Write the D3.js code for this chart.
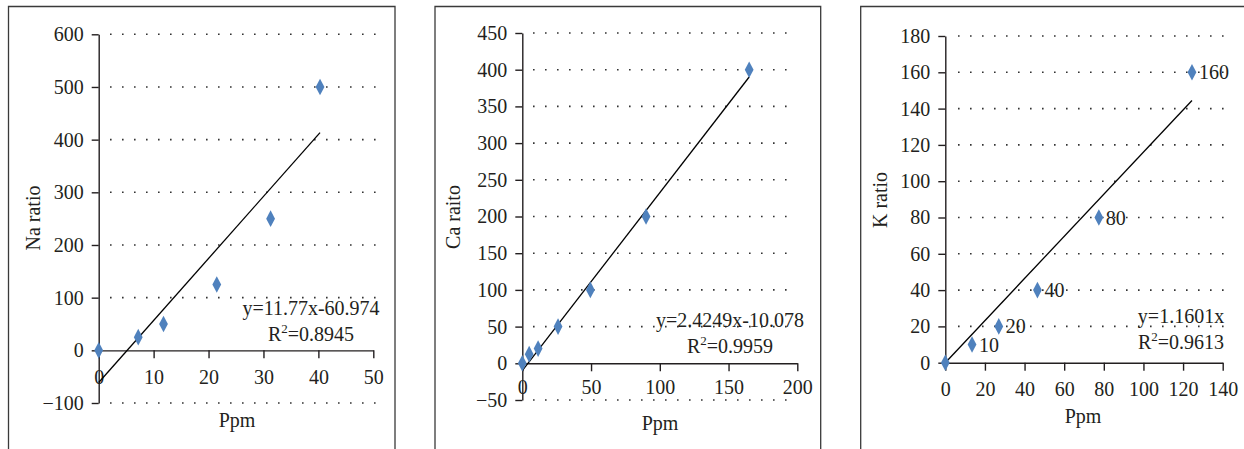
<!DOCTYPE html>
<html lang="en">
<head>
    <meta charset="UTF-8">
    <title>Na, Ca and K ratio vs Ppm</title>
    <script src="https://d3js.org/d3.v7.min.js"></script>
    <style>
        body { margin: 0; background: #fff; }
        text {
            font-family: "Liberation Serif", "DejaVu Serif", serif;
            font-size: 20px;
            fill: #231f20;
        }
        .axis path, .axis line { stroke: #231f20; stroke-width: 1.4px; }
    </style>
</head>
<body>
    <script>
        // data
        const naPpm = [0, 7.2, 11.8, 21.5, 31.3, 40.3];
        const naRatio = [0, 25, 50, 125, 250, 500];
        const caPpm = [0, 5, 11.5, 26, 49.5, 90, 165];
        const caRatio = [0, 12.5, 20, 50, 100, 200, 400];
        const kPpm = [0, 13.5, 27, 46.5, 77.5, 124.5];
        const kRatio = [0, 10, 20, 40, 80, 160];
        const kLabels = ["", "10", "20", "40", "80", "160"];

        const yTitles = ["Na ratio", "Ca raito", "K ratio"];
        const slopes = [11.77, 2.4249, 1.1601];
        const intercepts = [-60.974, -10.078, 0];
        const eqLines = ["y=11.77x-60.974", "y=2.4249x-10.078", "y=1.1601x"];
        const r2Values = ["0.8945", "0.9959", "0.9613"];

        const width = 1244;
        const height = 449;

        const svg = d3.select("body").append("svg")
            .attr("width", width)
            .attr("height", height);

        // layout for each panel
        const panels = [
            {xs: naPpm, ys: naRatio, labels: null,
             frame: [8.5, 395], xDom: [0, 50], xRange: [98.7, 373.3], yDom: [-100, 600], yRange: [403, 34.3],
             yTicks: d3.range(-100, 601, 100), xTicks: d3.range(0, 51, 10), xPad: 11,
             gridX: [110, 377], yTitleX: 33, yTitleY: 218, pX: 237, pY: 427, eqX: 311, eqY: 315},
            {xs: caPpm, ys: caRatio, labels: null,
             frame: [435, 820.7], xDom: [0, 200], xRange: [522.3, 797.3], yDom: [-50, 450], yRange: [400, 33],
             yTicks: d3.range(-50, 451, 50), xTicks: d3.range(0, 201, 50), xPad: 9,
             gridX: [533, 790], yTitleX: 453, yTitleY: 217, pX: 660, pY: 430, eqX: 730, eqY: 327},
            {xs: kPpm, ys: kRatio, labels: kLabels,
             frame: [860.7, 1250], xDom: [0, 140], xRange: [945.3, 1222.7], yDom: [0, 180], yRange: [362.7, 36],
             yTicks: d3.range(0, 181, 20), xTicks: d3.range(0, 141, 20), xPad: 11,
             gridX: [958, 1225], yTitleX: 880, yTitleY: 200, pX: 1083, pY: 423, eqX: 1181, eqY: 323}
        ];

        const diamond = "M0,-8.3L4.4,0L0,8.3L-4.4,0Z";

        panels.forEach((p, i) => {
            const g = svg.append("g");

            // panel frame
            g.append("path")
                .attr("d", `M${p.frame[0]},470V6.5H${p.frame[1]}V470`)
                .attr("fill", "none")
                .attr("stroke", "#3a3a3a")
                .attr("stroke-width", 1.3);

            const x = d3.scaleLinear().domain(p.xDom).range(p.xRange);
            const y = d3.scaleLinear().domain(p.yDom).range(p.yRange);

            // dotted grid
            g.append("g").selectAll("line")
                .data(p.yTicks.filter(t => t !== 0))
                .join("line")
                .attr("x1", p.gridX[0])
                .attr("x2", p.gridX[1])
                .attr("y1", d => y(d))
                .attr("y2", d => y(d))
                .attr("stroke", "#333")
                .attr("stroke-width", 1.6)
                .attr("stroke-dasharray", "1.6,10.4");

            // axes
            g.append("g")
                .attr("class", "axis")
                .attr("transform", `translate(${x(0)},0)`)
                .call(d3.axisLeft(y).tickValues(p.yTicks).tickSizeInner(7).tickSizeOuter(0)
                    .tickPadding(8).tickFormat(d => d < 0 ? "\u2212" + Math.abs(d) : d));

            g.append("g")
                .attr("class", "axis")
                .attr("transform", `translate(0,${y(0)})`)
                .call(d3.axisBottom(x).tickValues(p.xTicks).tickSizeInner(8).tickSizeOuter(0)
                    .tickPadding(p.xPad));
            svg.selectAll(".axis").attr("font-size", null).attr("font-family", null);

            // trend line
            const xMax = d3.max(p.xs);
            g.append("line")
                .attr("x1", x(0))
                .attr("y1", y(intercepts[i]))
                .attr("x2", x(xMax))
                .attr("y2", y(slopes[i] * xMax + intercepts[i]))
                .attr("stroke", "#000")
                .attr("stroke-width", 1.3);

            // points
            g.append("g").selectAll("path")
                .data(p.xs.map((v, j) => [v, p.ys[j]]))
                .join("path")
                .attr("d", diamond)
                .attr("transform", d => `translate(${x(d[0])},${y(d[1])})`)
                .attr("fill", "#4f81bd");

            if (p.labels) {
                g.append("g").selectAll("text")
                    .data(p.xs.map((v, j) => [v, p.ys[j], p.labels[j]]))
                    .join("text")
                    .attr("x", d => x(d[0]) + 7)
                    .attr("y", d => y(d[1]))
                    .attr("dy", "0.35em")
                    .text(d => d[2]);
            }

            // equation
            g.append("text")
                .attr("x", p.eqX)
                .attr("y", p.eqY)
                .attr("text-anchor", "middle")
                .text(eqLines[i]);
            const r2 = g.append("text")
                .attr("x", p.eqX)
                .attr("y", p.eqY + 26)
                .attr("text-anchor", "middle");
            r2.append("tspan").text("R");
            r2.append("tspan").attr("dy", -8).attr("font-size", 13).text("2");
            r2.append("tspan").attr("dy", 8).text("=" + r2Values[i]);

            // axis titles
            g.append("text")
                .attr("transform", `translate(${p.yTitleX},${p.yTitleY}) rotate(-90)`)
                .attr("text-anchor", "middle")
                .attr("dy", "0.35em")
                .text(yTitles[i]);
            g.append("text")
                .attr("x", p.pX)
                .attr("y", p.pY)
                .attr("text-anchor", "middle")
                .text("Ppm");
        });
    </script>
</body>
</html>
